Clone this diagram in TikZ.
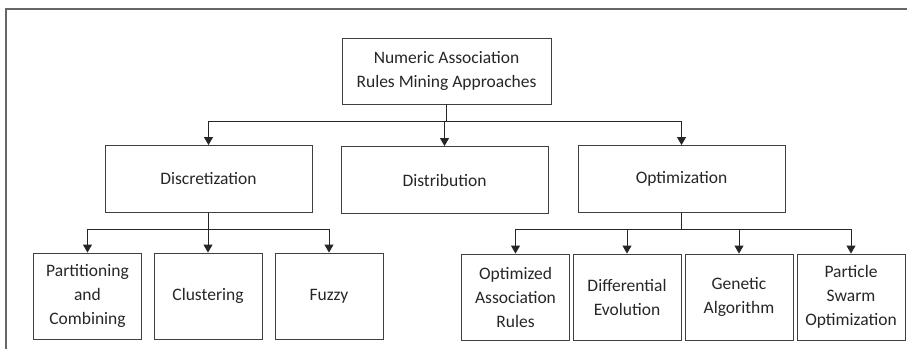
\documentclass[tikz,border=0pt]{standalone}
\usepackage{fontspec}
\setmainfont{Carlito}
\usetikzlibrary{arrows.meta}

\begin{document}
\begin{tikzpicture}[
		x=1pt, y=-1pt,
		box/.style={draw=black!75, line width=0.9pt, align=center, text=black!85,
			font=\fontsize{17.5}{24}\selectfont, inner sep=2pt},
		top/.style={box, minimum width=207pt, minimum height=67pt},
		leaf/.style={box, minimum width=108pt, minimum height=86pt},
		arr/.style={draw=black!85, line width=1pt, -{Triangle[width=9pt,length=8pt]}}
		]
		\useasboundingbox (0,0) rectangle (907,349);
		
		% Outer frame (cut off right and bottom)
		\draw[gray!80!black, line width=1.2pt] (6,349) -- (6,9) -- (907,9);
		
		% Root
		\node[box, minimum width=209pt, minimum height=66pt] (root) at (446.5,71) {Numeric Association\\Rules Mining Approaches};
		
		% Approaches
		\node[top] (disc) at (208.5,179) {Discretization};
		\node[top] (dist) at (444.5,180) {Distribution};
		\node[top] (optim) at (681.5,179) {Optimization};
		
		% Discretization methods
		\foreach \name/\x/\label in {part/87.5/Partitioning\\and\\Combining, clus/208/Clustering, fuzzy/329/Fuzzy}
		\node[leaf] (\name) at (\x,296) {\label};
		
		% Optimization methods
		\foreach \name/\x/\label in {oar/515.5/Optimized\\Association\\Rules, de/627/Differential\\Evolution, ga/739/Genetic\\Algorithm, pso/851/Particle\\Swarm\\Optimization}
		\node[leaf] (\name) at (\x,297) {\label};
		
		% Arrows
		\foreach \j in {disc, dist, optim}
		\draw[arr] (root.south) -- ++(0,17) -| (\j.north);
		
		\foreach \j in {part, clus, fuzzy}
		\draw[arr] (disc.south) -- ++(0,17) -| (\j.north);
		
		\foreach \j in {oar, de, ga, pso}
		\draw[arr] (optim.south) -- ++(0,17) -| (\j.north);
		
	\end{tikzpicture}
\end{document}
